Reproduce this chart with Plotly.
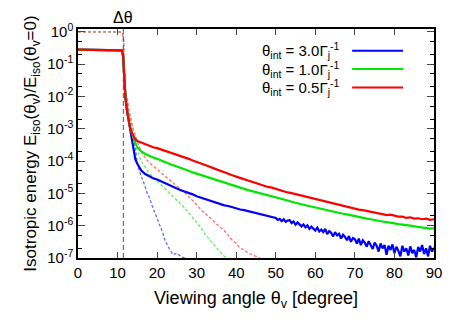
import numpy as np
import plotly.graph_objects as go

# ---------------- data (log10 of E_iso(theta_v)/E_iso(0)) ----------------
DELTA_THETA = 11.46  # degrees (0.2 rad)

y_tick_vals = [1e-7, 1e-6, 1e-5, 1e-4, 1e-3, 1e-2, 1e-1, 1e0]
y_tick_text = ["10<sup>-7</sup>", "10<sup>-6</sup>", "10<sup>-5</sup>", "10<sup>-4</sup>",
               "10<sup>-3</sup>", "10<sup>-2</sup>", "10<sup>-1</sup>", "10<sup>0</sup>"]

head_theta = [0, 2, 4, 6, 8, 10, 10.8, 11.1, 11.4, 11.6, 11.8, 12.0, 12.4, 12.8, 13.2]
tail_theta = list(range(16, 91))

red_theta = head_theta + [13.6, 14.0, 14.5, 15] + tail_theta
red_lg = [-0.55, -0.55, -0.55, -0.55, -0.55, -0.55, -0.55, -0.57, -0.75, -1.2, -1.7, -2.05, -2.45, -2.75, -2.97,
          -3.12, -3.24, -3.33, -3.38,
          -3.43, -3.47, -3.53, -3.57, -3.60, -3.64, -3.67, -3.72, -3.75, -3.80,
          -3.84, -3.87, -3.93, -3.98, -4.02, -4.07, -4.12, -4.16, -4.21, -4.26,
          -4.30, -4.35, -4.39, -4.44, -4.48, -4.52, -4.57, -4.60, -4.64, -4.68,
          -4.72, -4.75, -4.80, -4.82, -4.86, -4.90, -4.92, -4.97, -4.99, -5.02,
          -5.07, -5.09, -5.12, -5.16, -5.18, -5.22, -5.25, -5.27, -5.31, -5.33,
          -5.36, -5.39, -5.42, -5.44, -5.47, -5.50, -5.52, -5.55, -5.57, -5.59,
          -5.62, -5.64, -5.67, -5.66, -5.70, -5.72, -5.72, -5.76, -5.74, -5.78,
          -5.77, -5.80, -5.78, -5.82, -5.80]

green_theta = head_theta + [13.6, 14.0, 14.5, 15] + tail_theta
green_lg = [-0.55, -0.55, -0.55, -0.55, -0.55, -0.55, -0.55, -0.57, -0.75, -1.2, -1.7, -2.05, -2.45, -2.75, -2.97,
            -3.12, -3.28, -3.45, -3.57,
            -3.70, -3.78, -3.84, -3.89, -3.93, -3.99, -4.03, -4.08, -4.12, -4.17,
            -4.21, -4.26, -4.30, -4.35, -4.39, -4.44, -4.48, -4.52, -4.56, -4.60,
            -4.64, -4.68, -4.72, -4.75, -4.79, -4.83, -4.86, -4.90, -4.93, -4.96,
            -5.00, -5.03, -5.07, -5.09, -5.13, -5.16, -5.19, -5.22, -5.26, -5.28,
            -5.32, -5.35, -5.38, -5.40, -5.44, -5.46, -5.49, -5.52, -5.55, -5.57,
            -5.60, -5.63, -5.65, -5.68, -5.71, -5.73, -5.76, -5.78, -5.80, -5.83,
            -5.84, -5.87, -5.89, -5.90, -5.93, -5.95, -5.96, -5.99, -6.00, -6.02,
            -6.04, -6.05, -6.06, -6.09, -6.08]

blue_theta = (head_theta + [13.5, 13.8, 14.1, 14.5, 15, 15.5] + list(range(16, 50))
              + [50 + 0.5 * i for i in range(81)])
blue_lg = [-0.55, -0.55, -0.55, -0.55, -0.55, -0.55, -0.55, -0.57, -0.75, -1.2, -1.7, -2.05, -2.45, -2.75, -2.97,
           -3.2, -3.5, -3.75, -3.95, -4.08, -4.2,
           -4.29, -4.40, -4.47, -4.53, -4.57, -4.63, -4.68, -4.74, -4.79, -4.85,
           -4.90, -4.94, -4.99, -5.03, -5.09, -5.13, -5.18, -5.22, -5.25, -5.30,
           -5.32, -5.37, -5.39, -5.43, -5.46, -5.50, -5.52, -5.55, -5.60, -5.62,
           -5.65, -5.69, -5.72, -5.75,
           -5.76, -5.82, -5.79, -5.86, -5.80, -5.88, -5.84, -5.83, -5.92, -5.87,
           -5.97, -5.90, -5.95, -6.02, -5.96, -6.05, -5.99, -6.10, -6.03, -6.08,
           -6.15, -6.06, -6.18, -6.12, -6.20, -6.10, -6.26, -6.17, -6.22, -6.33,
           -6.20, -6.30, -6.25, -6.40, -6.28, -6.35, -6.45, -6.32, -6.50, -6.38,
           -6.42, -6.55, -6.40, -6.60, -6.45, -6.52, -6.65, -6.48, -6.58, -6.72,
           -6.52, -6.62, -6.80, -6.55, -6.70, -6.60, -6.90, -6.62, -6.75, -6.58,
           -6.85, -6.65, -6.78, -6.95, -6.62, -6.80, -6.70, -6.92, -6.64, -6.85,
           -6.75, -6.98, -6.66, -6.80, -6.60, -6.88, -6.70, -6.95, -6.62, -6.80,
           -6.68]

dash_head_theta = [0, 2, 4, 6, 8, 10, 10.6, 11.2, 11.5, 11.6, 11.7, 11.9, 12.1, 12.4, 12.8, 13.2, 13.6]
dash_head_lg = [0, 0, 0, 0, 0, 0, 0, -0.05, -0.2, -0.6, -1.2, -1.7, -1.9, -2.05, -2.4, -2.62, -2.87]

red_dash_theta = dash_head_theta + [14.0, 15] + list(range(16, 47))
red_dash_lg = dash_head_lg + [-3.02, -3.4,
               -3.72, -3.90, -4.05, -4.15, -4.25, -4.35, -4.45, -4.55, -4.65, -4.75,
               -4.87, -4.98, -5.10, -5.22, -5.35, -5.50, -5.60, -5.70, -5.82, -5.95,
               -6.05, -6.15, -6.30, -6.45, -6.55, -6.70, -6.75, -6.85, -6.90, -6.95, -7.0]

green_dash_theta = dash_head_theta + [14.0, 14.5, 15] + list(range(16, 39))
green_dash_lg = dash_head_lg + [-3.10, -3.40, -3.70,
                 -4.00, -4.20, -4.38, -4.50, -4.62, -4.75, -4.85, -4.96, -5.08, -5.20,
                 -5.32, -5.45, -5.60, -5.75, -5.90, -6.05, -6.25, -6.40, -6.55, -6.70,
                 -6.82, -6.95, -7.0]

blue_dash_theta = dash_head_theta + [14.0, 14.5, 15, 15.5, 16, 16.5, 17, 17.5, 18, 18.5, 19, 19.5,
                                     20, 20.5, 21, 21.5, 22, 22.5, 23, 23.5, 24, 25, 26, 27]
blue_dash_lg = dash_head_lg + [-3.20, -3.70, -4.05, -4.30, -4.45, -4.62, -4.80, -5.00, -5.12, -5.30,
                -5.45, -5.62, -5.80, -5.95, -6.10, -6.25, -6.45, -6.60, -6.70, -6.80,
                -6.90, -6.85, -6.95, -7.0]

legend_labels = ["θ<sub>int</sub> = 3.0Γ<sub>j</sub><sup>-1</sup>",
                 "θ<sub>int</sub> = 1.0Γ<sub>j</sub><sup>-1</sup>",
                 "θ<sub>int</sub> = 0.5Γ<sub>j</sub><sup>-1</sup>"]
colors = ["#0000ff", "#00e600", "#ff0000"]
light_colors = ["#6a6aff", "#66ee66", "#ff7070"]

# ---------------- figure ----------------
fig = go.Figure()

dashed = [(blue_dash_theta, blue_dash_lg), (green_dash_theta, green_dash_lg), (red_dash_theta, red_dash_lg)]
solid = [(blue_theta, blue_lg), (green_theta, green_lg), (red_theta, red_lg)]

for (th, lg), c in zip(dashed, light_colors):
    fig.add_trace(go.Scatter(x=th, y=np.power(10.0, lg), mode="lines",
                             line=dict(color=c, width=1.3, dash="3px,2px"),
                             hoverinfo="skip"))

fig.add_trace(go.Scatter(x=[DELTA_THETA, DELTA_THETA], y=[1e-7, 1.3], mode="lines",
                         line=dict(color="#555555", width=1, dash="5px,3px"), hoverinfo="skip"))

for (th, lg), c in zip(solid, colors):
    fig.add_trace(go.Scatter(x=th, y=np.power(10.0, lg), mode="lines",
                             line=dict(color=c, width=2.2), hoverinfo="skip"))

# legend (text left, sample line right, as in the original)
row_y = [0.905, 0.825, 0.745]
for lab, c, yy in zip(legend_labels, colors, row_y):
    fig.add_annotation(x=0.738, y=yy, xref="paper", yref="paper", text=lab, showarrow=False,
                       xanchor="right", yanchor="middle", font=dict(size=15))
    fig.add_shape(type="line", xref="paper", yref="paper", x0=0.770, x1=0.913, y0=yy, y1=yy,
                  line=dict(color=c, width=2))

fig.add_annotation(x=DELTA_THETA, y=1.0, xref="x", yref="paper", yshift=12, text="Δθ",
                   showarrow=False, yanchor="middle", font=dict(size=16))

# page body shifts the figure 8px to the right: shrink width so the plot area lines up
fig.update_layout(
    width=459, height=327,
    margin=dict(l=70, r=33, t=21, b=77),
    plot_bgcolor="white", paper_bgcolor="white",
    showlegend=False,
    font=dict(family="Liberation Sans, Arial, sans-serif", size=15, color="black"),
)
fig.update_xaxes(range=[0, 90], dtick=10, ticks="inside", ticklen=6, tickwidth=1.2,
                 mirror="allticks", showline=True, linecolor="black", linewidth=1.5,
                 showgrid=False, zeroline=False, automargin=False,
                 title=dict(text="Viewing angle θ<sub>v</sub> [degree]", standoff=12))
fig.update_yaxes(type="log", range=[-7, 0.09], tickvals=y_tick_vals, ticktext=y_tick_text,
                 ticks="inside", ticklen=7, tickwidth=1.2,
                 minor=dict(ticks="inside", ticklen=4, tickcolor="black", showgrid=False),
                 mirror="allticks", showline=True, linecolor="black", linewidth=1.5,
                 showgrid=False, zeroline=False, automargin=False,
                 title=dict(text="Isotropic energy E<sub>iso</sub>(θ<sub>v</sub>)/E<sub>iso</sub>(θ<sub>v</sub>=0)",
                            standoff=6, font=dict(size=17)))

fig.write_html("out.html")
